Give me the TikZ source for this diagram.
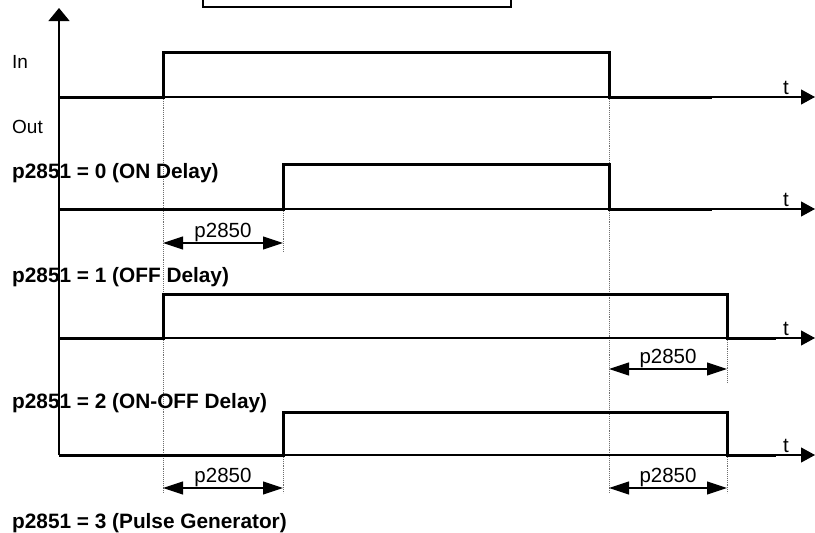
\documentclass[tikz,border=0pt]{standalone}
\usepackage{fontspec}
\setmainfont{Liberation Sans}
\usetikzlibrary{arrows.meta}
\definecolor{ink}{HTML}{000000}
\definecolor{guidegray}{HTML}{6E6E6E}

\tikzset{
  signal/.style={ink,line width=3pt,line join=miter},
  timeline/.style={ink,line width=1.1pt,-{Triangle[length=14pt,width=15pt]}},
  guide/.style={guidegray,line width=0.9pt,densely dotted},
  dimarrow/.style={ink,line width=1.1pt,{Triangle[length=20pt,width=13pt]}-{Triangle[length=20pt,width=13pt]}},
  rowlabel/.style={anchor=base west,inner sep=0pt,font=\bfseries\fontsize{20.8}{24}\selectfont},
  sidelabel/.style={anchor=base west,inner sep=0pt,font=\fontsize{19}{22}\selectfont}
}

\begin{document}
\begin{tikzpicture}[x=1pt,y=-1pt,font=\fontsize{20.5}{24}\selectfont,text=ink]
  \useasboundingbox (0,0) rectangle (815,533);

  \draw[ink,line width=2pt] (203,-20) rectangle (511,6.5);

  \draw[guide] (163,97)--(163,493);
  \draw[guide] (609,97)--(609,493);
  \draw[guide] (283,209)--(283,252);
  \draw[guide] (283,455)--(283,493);
  \draw[guide] (727,338)--(727,383);
  \draw[guide] (727,455)--(727,493);

  \draw[ink,line width=1.1pt,-{Triangle[length=13pt,width=21pt]}]
    (59,455)--(59,8);

  \foreach \sig/\ylow/\yhigh/\ton/\toff/\tend in
    {in/97/52/163/609/712,on/209/164/283/609/712,
     off/338/294/163/727/776,onoff/455/412/283/727/776}{
    \draw[timeline] (59,\ylow)--(815,\ylow);
    \node[anchor=base,inner sep=0pt] (t-\sig) at (786,\ylow-3) {t};
    \draw[signal] (59,\ylow)--(\ton,\ylow)--(\ton,\yhigh)--(\toff,\yhigh)
      --(\toff,\ylow)--(\tend,\ylow);
  }

  \foreach \dim/\xa/\xb/\yy in
    {donA/163/283/243,doffB/609/727/369,donC/163/283/488,doffD/609/727/488}{
    \coordinate (\dim-a) at (\xa,\yy);
    \coordinate (\dim-b) at (\xb,\yy);
    \draw[dimarrow] (\dim-a)--(\dim-b)
      node[midway,above,inner sep=1pt] (\dim-lab) {p2850};
  }

  \node[sidelabel] (lab-in) at (12,68) {In};
  \node[sidelabel] (lab-out) at (12,133) {Out};
  \node[rowlabel] (lab-on) at (12,178) {p2851 = 0 (ON Delay)};
  \node[rowlabel] (lab-off) at (12,282) {p2851 = 1 (OFF Delay)};
  \node[rowlabel] (lab-onoff) at (12,408) {p2851 = 2 (ON-OFF Delay)};
  \node[rowlabel] (lab-pulse) at (12,528) {p2851 = 3 (Pulse Generator)};
\end{tikzpicture}
\end{document}
